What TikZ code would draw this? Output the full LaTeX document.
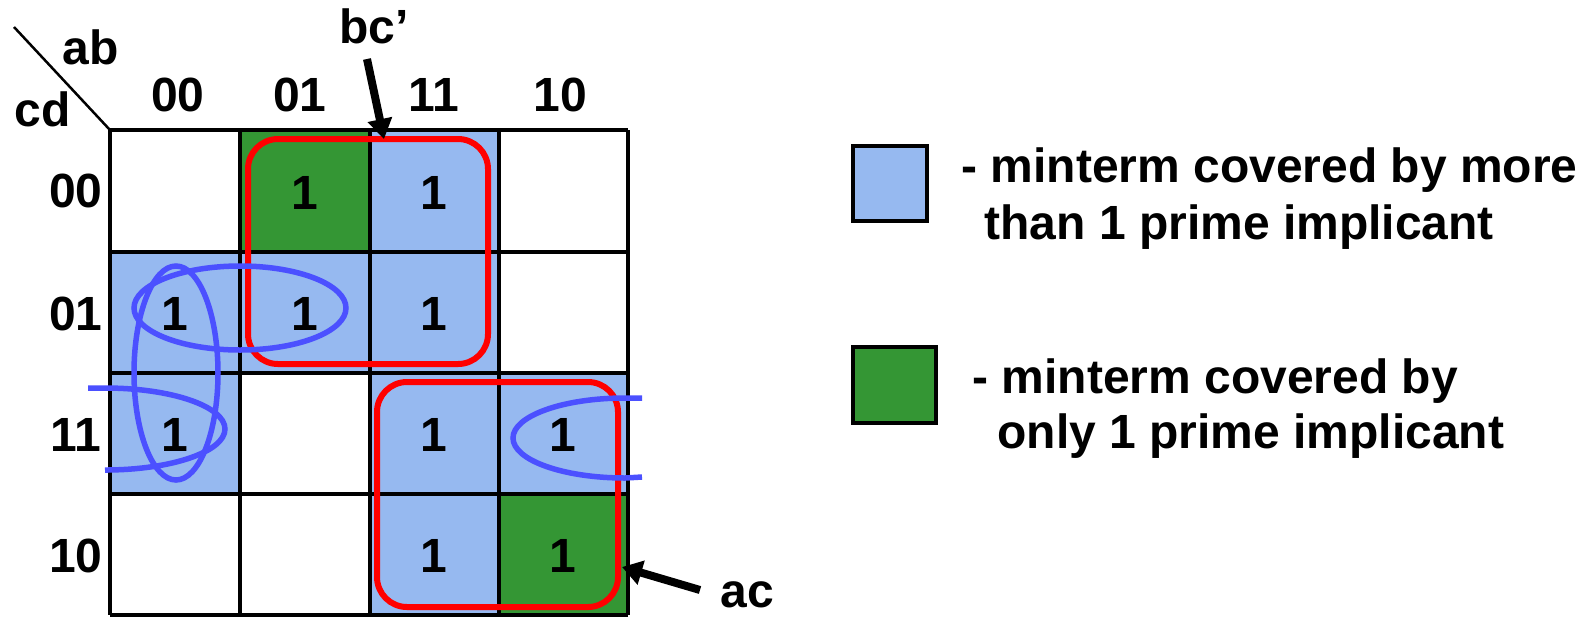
\documentclass[tikz,border=0pt]{standalone}
\usepackage{fontspec}
\setmainfont{Liberation Sans}
\usetikzlibrary{arrows.meta}

\definecolor{shared}{RGB}{150,185,240}
\definecolor{single}{RGB}{52,150,52}
\definecolor{loopblue}{RGB}{75,80,255}

\tikzset{
	grid line/.style={line width=1.75pt},
	red loop/.style={draw=red, line width=3pt, rounded corners=15pt},
	blue loop/.style={draw=loopblue, line width=2.75pt},
	pointer/.style={line width=4pt, -{Triangle[width=12pt,length=10pt]}},
	lbl/.style={inner sep=0pt, font=\fontsize{24}{28}\selectfont\bfseries},
}

\begin{document}
\begin{tikzpicture}[x=0.5pt, y=-0.5pt]
		%%%%% START %%%%%
		\useasboundingbox (0,0) rectangle (1594,617);
		
		% shaded minterms
		\fill[single] (240,130) rectangle (370,252);
		\fill[shared] (370,130) rectangle (499,252);
		\fill[shared] (110,252) rectangle (499,373);
		\fill[shared] (110,373) rectangle (240,494);
		\fill[shared] (370,373) rectangle (628,494);
		\fill[shared] (370,494) rectangle (499,615);
		\fill[single] (499,494) rectangle (628,615);
		
		% map grid
		\foreach \x in {110,240,370,499,628}
			\draw[grid line] (\x,130) -- (\x,615);
		\foreach \y in {130,252,373,494,615}
			\draw[grid line] (110,\y) -- (628,\y);
		\draw[line width=1.25pt] (14,27) -- (110,130);
		
		% variable names and gray code
		\node[lbl, anchor=base] (ab) at (91,64) {ab};
		\node[lbl, anchor=base] (cd) at (43,126) {cd};
		\foreach \name/\x/\txt in {c0/178/00, c1/300/01, c2/434/11, c3/560/10}
			\node[lbl, anchor=base] (\name) at (\x,111) {\txt};
		\foreach \name/\y/\txt in {r0/207/00, r1/330/01, r2/451/11, r3/572/10}
			\node[lbl, anchor=base] (\name) at (76,\y) {\txt};
		
		% ones
		\foreach \name/\x/\y in {m4/305/193, m12/434/193, m1/175/314, m5/305/314,
			m13/434/314, m3/175/435, m15/434/435, m11/563/435, m14/434/556, m10/563/556}
			\node[lbl] (\name) at (\x,\y) {1};
		
		% essential prime implicants
		\draw[red loop] (248,139) rectangle (488,364);
		\draw[red loop] (377,382) rectangle (618,607);
		
		% other prime implicants
		\draw[blue loop] (240,308) ellipse [x radius=106, y radius=42];
		\draw[blue loop] (176,373) ellipse [x radius=42, y radius=107];
		\draw[blue loop] (88,388) -- (105,388) arc [start angle=-90, end angle=90, x radius=120, y radius=41];
		\draw[blue loop] (642,398) -- (625,398) arc [start angle=-90, end angle=-270, x radius=112, y radius=40] -- (642,477);
		
		% labels with arrows
		\node[lbl, anchor=base] (bc) at (374,43) {bc'};
		\coordinate (bc-tail) at (367,59);
		\coordinate (bc-tip) at (384,139);
		\draw[pointer] (bc-tail) -- (bc-tip);
		
		\node[lbl, anchor=base] (ac) at (747,607) {ac};
		\coordinate (ac-tail) at (700,590);
		\coordinate (ac-tip) at (622,567);
		\draw[pointer] (ac-tail) -- (ac-tip);
		
		% legend
		\draw[line width=2pt, fill=shared] (853,146) rectangle (927,221);
		\draw[line width=2pt, fill=single] (853,347) rectangle (936,423);
		\node[lbl, anchor=base west] (more1) at (961,182) {- minterm covered by more};
		\node[lbl, anchor=base west] (more2) at (984,239) {than 1 prime implicant};
		\node[lbl, anchor=base west] (only1) at (972,393) {- minterm covered by};
		\node[lbl, anchor=base west] (only2) at (997,448) {only 1 prime implicant};
		
		%%%%% END %%%%%
	\end{tikzpicture}
\end{document}
